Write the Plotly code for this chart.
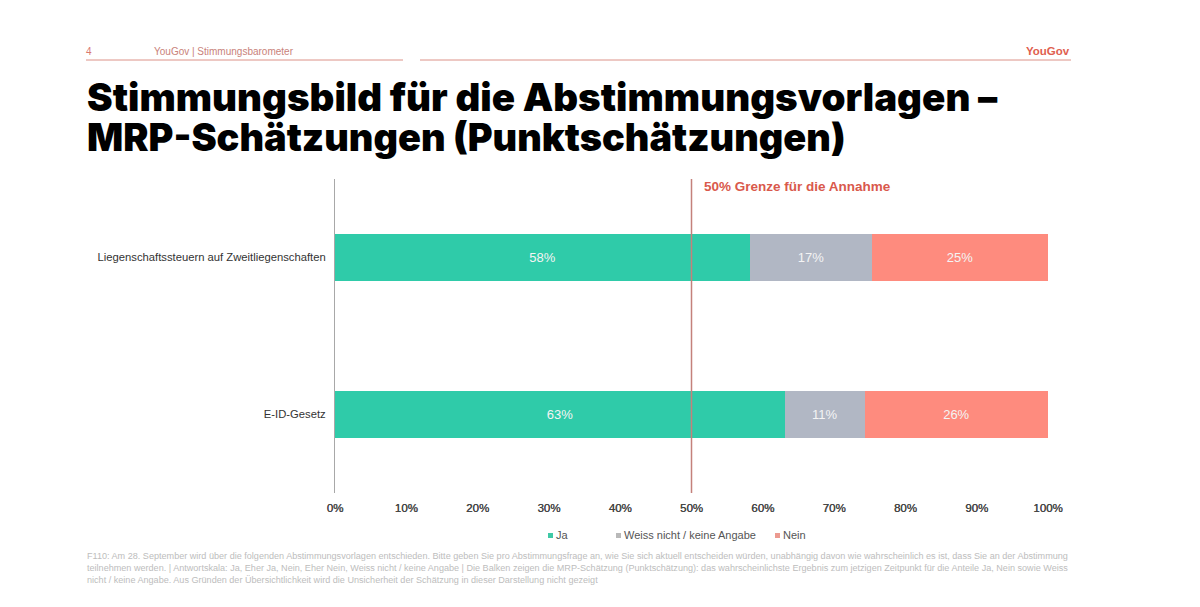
import plotly.graph_objects as go

categories = ['Liegenschaftssteuern auf Zweitliegenschaften', 'E-ID-Gesetz']
ja = [58.2, 63.1]
weiss = [17.1, 11.2]
nein = [24.7, 25.7]
series_names = ['Ja', 'Weiss nicht / keine Angabe', 'Nein']
tick_values = [0, 10, 20, 30, 40, 50, 60, 70, 80, 90, 100]
threshold = [50, 50]

GREEN = '#2fcba9'
GREY = '#b1b7c4'
SALMON = '#fe8b7e'
RED = '#d9594c'
FONT = 'Liberation Sans'
W, H = 1200, 607
# plot area in page pixels
LEFT, RIGHT, TOP, BOTTOM = 335, 1048, 179, 493

footer_lines = [
    'F110: Am 28. September wird über die folgenden Abstimmungsvorlagen entschieden. Bitte geben Sie pro Abstimmungsfrage an, wie Sie sich aktuell entscheiden würden, unabhängig davon wie wahrscheinlich es ist, dass Sie an der Abstimmung',
    'teilnehmen werden. | Antwortskala: Ja, Eher Ja, Nein, Eher Nein, Weiss nicht / keine Angabe | Die Balken zeigen die MRP-Schätzung (Punktschätzung): das wahrscheinlichste Ergebnis zum jetzigen Zeitpunkt für die Anteile Ja, Nein sowie Weiss',
    'nicht / keine Angabe. Aus Gründen der Übersichtlichkeit wird die Unsicherheit der Schätzung in dieser Darstellung nicht gezeigt',
]


def px(x):
    return (x - LEFT) / (RIGHT - LEFT)


def py(y):
    return (BOTTOM - y) / (BOTTOM - TOP)


def text(x, y, s, size, color='#444444', anchor='left', weight='normal', family=FONT):
    fig.add_annotation(
        x=px(x), y=py(y), xref='paper', yref='paper',
        text=s, showarrow=False, xanchor=anchor, yanchor='middle', borderpad=0,
        font=dict(family=family, size=size, color=color, weight=weight),
    )


def hline(x0, x1, y, color, width=1):
    fig.add_shape(type='line', xref='paper', yref='paper',
                  x0=px(x0), x1=px(x1), y0=py(y), y1=py(y),
                  line=dict(color=color, width=width))


fig = go.Figure()
for name, values, color in zip(series_names, [ja, weiss, nein], [GREEN, GREY, SALMON]):
    fig.add_trace(go.Bar(
        y=categories, x=values, name=name, orientation='h',
        marker=dict(color=color, line=dict(width=0)),
        width=0.305,
        text=[f'{v:.0f}%' for v in values],
        textposition='inside', insidetextanchor='middle',
        textfont=dict(family=FONT, size=13, color='#f4f4f4'),
        showlegend=False,
    ))

# 50% line
fig.add_trace(go.Scatter(
    x=threshold, y=[0, 1], yaxis='y2', mode='lines',
    line=dict(color='#c4817b', width=1.5), showlegend=False, hoverinfo='skip',
))

fig.update_layout(
    width=W, height=H, autosize=False,
    margin=dict(l=LEFT, r=W - RIGHT, t=TOP, b=H - BOTTOM),
    barmode='stack',
    plot_bgcolor='white', paper_bgcolor='white',
    font=dict(family=FONT, color='#444444'),
    xaxis=dict(range=[0, 100], tickvals=tick_values, ticktext=[f'{v}%' for v in tick_values],
               showgrid=False, zeroline=False, showline=False, ticks='',
               tickfont=dict(family=FONT, size=11.5, color='#444444', shadow='0.3px 0 0 #444444'),
               ticklabelstandoff=6),
    yaxis=dict(autorange='reversed', showgrid=False, zeroline=False, showline=True,
               linecolor='#a8a8a8', linewidth=1, ticks='',
               tickfont=dict(family=FONT, size=11.25, color='#333333'), ticklabelstandoff=6),
    yaxis2=dict(range=[0, 1], overlaying='y', visible=False),
)

# header
text(85, 51, '4', 10, '#d9796f')
text(153, 51, 'YouGov | Stimmungsbarometer', 10, '#c9827a')
text(1071, 51, 'YouGov', 11.5, '#e0604f', anchor='right', weight='bold')
hline(86, 403, 60, '#dc9288')
hline(420, 1071, 60, '#dc9288')

# title
text(86, 97, 'Stimmungsbild für die Abstimmungsvorlagen –', 38.5, '#000000', weight=900, family='Inter')
text(86, 137, 'MRP-Schätzungen (Punktschätzungen)', 37.9, '#000000', weight=900, family='Inter')

text(703, 186, '50% Grenze für die Annahme', 13.5, RED, weight='bold')

# legend
for x, name, color in zip([548, 616, 775], series_names, ['#3fc9a6', '#b9b9b9', '#ec9a90']):
    fig.add_shape(type='rect', xref='paper', yref='paper',
                  x0=px(x), x1=px(x + 5), y0=py(538), y1=py(533),
                  fillcolor=color, line=dict(width=0))
    text(x + 7, 535, name, 11, '#555555')

# footnote
for y, line in zip([556, 568, 580], footer_lines):
    text(86, y, line, 9.08, '#bdbdbd')

fig.write_html('out.html', config={'displayModeBar': False},
               post_script="document.body.style.margin='0';")
